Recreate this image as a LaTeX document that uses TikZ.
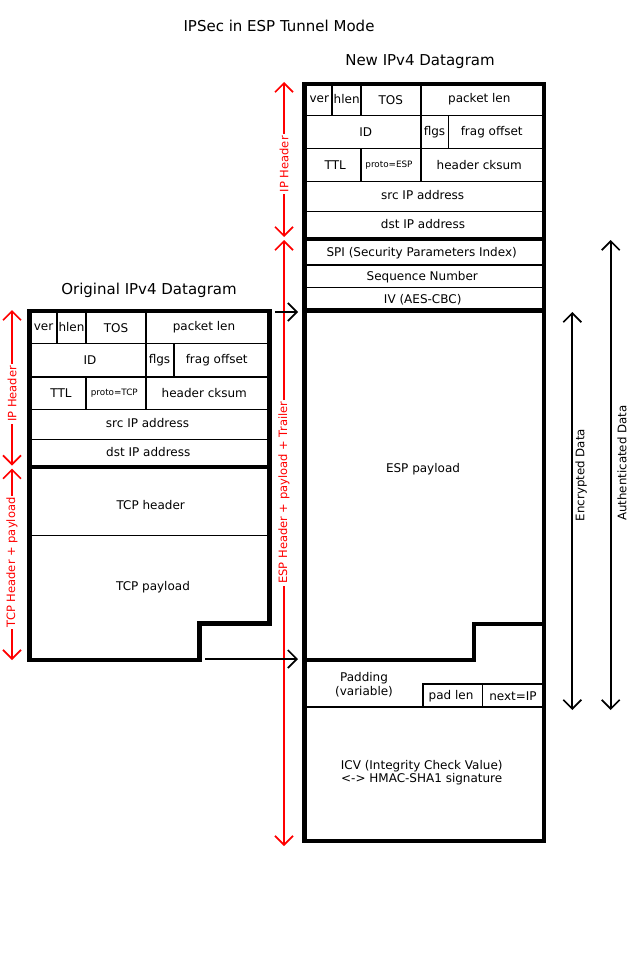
\documentclass[tikz,border=0pt]{standalone}
\usepackage{fontspec}
\setmainfont{DejaVu Sans}
\usetikzlibrary{arrows.meta}
\begin{document}
\begin{tikzpicture}[x=1pt,y=-1pt,
  thinl/.style={line width=1.7pt},
  thickl/.style={line width=4.5pt},
  hairl/.style={line width=1pt},
  lbl/.style={font=\fontsize{12}{13.5}\selectfont, inner sep=0pt},
  tinylbl/.style={font=\fontsize{8.8}{10}\selectfont, inner sep=0pt},
  ttl/.style={font=\fontsize{15}{16}\selectfont, inner sep=0pt},
  barbs/.style={{Straight Barb[length=9pt,width=18pt]}-{Straight Barb[length=9pt,width=18pt]}, line width=1.7pt},
  onebarb/.style={-{Straight Barb[length=9pt,width=18pt]}, line width=1.7pt},
  redlbl/.style={font=\fontsize{11.5}{13}\selectfont, text=red, fill=white, rotate=90, inner sep=2pt},
  sidelbl/.style={font=\fontsize{11.8}{13}\selectfont, inner sep=0pt, rotate=90}]
\useasboundingbox (0,0) rectangle (640,960);
\fill[white] (0,0) rectangle (640,960);

% titles
\node[ttl] (title) at (279,26) {IPSec in ESP Tunnel Mode};
\node[ttl] (newtitle) at (420,62) {New IPv4 Datagram};
\node[ttl] (origtitle) at (149,290) {Original IPv4 Datagram};

% ---------- original datagram ----------
\draw[thinl] (30,343.5) -- (269.5,343.5);
\draw[thinl] (30,376.7) -- (269.5,376.7);
\draw[thinl] (30,409.5) -- (269.5,409.5);
\draw[thinl] (30,439.5) -- (269.5,439.5);
\draw[thinl] (57,311) -- (57,343.5);
\draw[thinl] (86,311) -- (86,343.5);
\draw[thinl] (146,311) -- (146,409.5);
\draw[thinl] (174,343.5) -- (174,376.7);
\draw[thinl] (86,376.7) -- (86,409.5);
\draw[hairl] (30,535) -- (269.5,535);
\draw[thickl] (30,467) -- (269.5,467);
\draw[thickl, line join=miter] (29.5,311) -- (269.5,311) -- (269.5,623.5) -- (199.5,623.5) -- (199.5,660) -- (29.5,660) -- cycle;

\node[lbl] (o-ver) at (43.5,327) {ver};
\node[lbl] (o-hlen) at (71.5,327) {hlen};
\node[lbl] (o-tos) at (116,328) {TOS};
\node[lbl] (o-plen) at (204,327) {packet len};
\node[lbl] (o-id) at (90,360) {ID};
\node[lbl] (o-flgs) at (159.5,360) {flgs};
\node[lbl] (o-frag) at (216.7,360) {frag offset};
\node[lbl] (o-ttl) at (61,393) {TTL};
\node[tinylbl] (o-proto) at (114.3,393) {proto=TCP};
\node[lbl] (o-cks) at (204.3,393) {header cksum};
\node[lbl] (o-src) at (147.5,423.3) {src IP address};
\node[lbl] (o-dst) at (148.3,452.3) {dst IP address};
\node[lbl] (o-tcph) at (150.7,505) {TCP header};
\node[lbl] (o-tcpp) at (153,587) {TCP payload};

% ---------- new datagram ----------
\draw[thinl] (304.5,115.5) -- (544,115.5);
\draw[thinl] (304.5,148.5) -- (544,148.5);
\draw[thinl] (304.5,181.5) -- (544,181.5);
\draw[thinl] (304.5,211.5) -- (544,211.5);
\draw[thinl] (304.5,265) -- (544,265);
\draw[thinl] (304.5,287.5) -- (544,287.5);
\draw[thinl] (304.5,707) -- (544,707);
\draw[thinl] (332,84) -- (332,115.5);
\draw[thinl] (361,84) -- (361,115.5);
\draw[thinl] (421,84) -- (421,181.5);
\draw[thinl] (448.5,115.5) -- (448.5,148.5);
\draw[thinl] (361,148.5) -- (361,181.5);
\draw[thinl] (423,707) -- (423,684) -- (544,684);
\draw[thinl] (482.5,684) -- (482.5,707);
\draw[thickl] (304.5,239) -- (544,239);
\draw[thickl] (304.5,310.5) -- (544,310.5);
\draw[thickl, line join=miter] (304.5,660) -- (474,660) -- (474,624) -- (544,624);
\draw[thickl, line join=miter] (304.5,84) rectangle (544,841);

\node[lbl] (n-ver) at (319.3,99) {ver};
\node[lbl] (n-hlen) at (346.7,99) {hlen};
\node[lbl] (n-tos) at (390.7,100) {TOS};
\node[lbl] (n-plen) at (479.3,99) {packet len};
\node[lbl] (n-id) at (365.7,131.7) {ID};
\node[lbl] (n-flgs) at (434.5,131.7) {flgs};
\node[lbl] (n-frag) at (491.7,131.7) {frag offset};
\node[lbl] (n-ttl) at (335.3,165) {TTL};
\node[tinylbl] (n-proto) at (389,164.7) {proto=ESP};
\node[lbl] (n-cks) at (479.3,164.7) {header cksum};
\node[lbl] (n-src) at (422.7,195.3) {src IP address};
\node[lbl] (n-dst) at (423,224.3) {dst IP address};
\node[lbl] (n-spi) at (421.7,252.7) {SPI (Security Parameters Index)};
\node[lbl] (n-seq) at (422.3,276.7) {Sequence Number};
\node[lbl] (n-iv) at (422.7,299.3) {IV (AES-CBC)};
\node[lbl] (n-esp) at (423,469) {ESP payload};
\node[lbl, align=center] (n-pad) at (364,684.5) {Padding\\(variable)};
\node[lbl] (n-padlen) at (451,696) {pad len};
\node[lbl] (n-next) at (513,696) {next=IP};
\node[lbl, align=center] (n-icv) at (421.7,772.5) {ICV (Integrity Check Value)\\\textless-\textgreater{} HMAC-SHA1 signature};

% ---------- red brace arrows ----------
\coordinate (lipT) at (12,310);
\coordinate (lipB) at (12,465.5);
\coordinate (ltcpT) at (12,468.5);
\coordinate (ltcpB) at (12,660);
\draw[barbs, red] (lipT) -- (lipB) node[redlbl, pos=0.54] (l-ip) {IP Header};
\draw[barbs, red] (ltcpT) -- (ltcpB) node[redlbl, pos=0.49] (l-tcp) {TCP Header + payload};

\coordinate (nipT) at (284,82);
\coordinate (nipB) at (284,237);
\coordinate (nespT) at (284,240);
\coordinate (nespB) at (284,846);
\draw[barbs, red] (nipT) -- (nipB) node[redlbl, pos=0.53] (l-nip) {IP Header};
\draw[barbs, red] (nespT) -- (nespB) node[redlbl, pos=0.417] (l-esp) {ESP Header + payload + Trailer};

% ---------- black side arrows ----------
\coordinate (encT) at (572.3,312);
\coordinate (encB) at (572.3,710);
\coordinate (autT) at (610.7,240);
\coordinate (autB) at (610.7,710);
\draw[barbs] (encT) -- (encB);
\draw[barbs] (autT) -- (autB);
\node[sidelbl] (l-enc) at (581,475) {Encrypted Data};
\node[sidelbl] (l-aut) at (622,463) {Authenticated Data};

% ---------- connecting arrows ----------
\coordinate (c1s) at (275,312);
\coordinate (c1e) at (298,312);
\coordinate (c2s) at (205,659);
\coordinate (c2e) at (298,659);
\draw[onebarb] (c1s) -- (c1e);
\draw[onebarb] (c2s) -- (c2e);
\end{tikzpicture}
\end{document}
